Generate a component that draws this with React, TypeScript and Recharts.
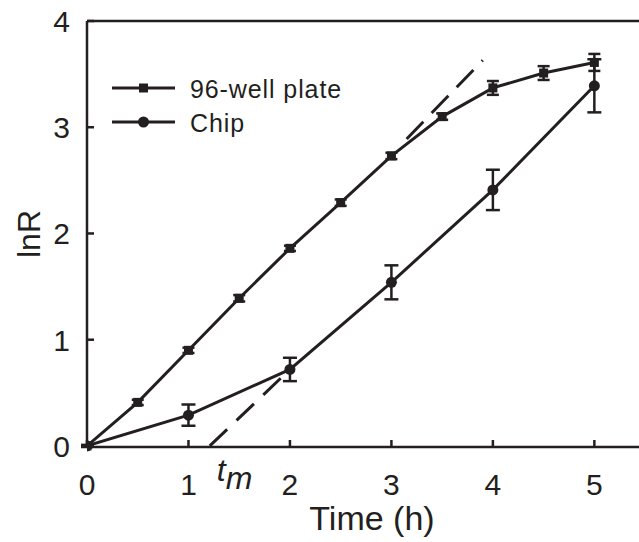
import React from 'react';
import { LineChart, Line, XAxis, YAxis, ErrorBar, ReferenceLine, ReferenceDot } from 'recharts';

// 96-well plate
const wellTime = [0, 0.5, 1, 1.5, 2, 2.5, 3, 3.5, 4, 4.5, 5];
const wellLnR = [0, 0.41, 0.9, 1.39, 1.86, 2.29, 2.73, 3.1, 3.37, 3.51, 3.61];
const wellErr = [0.01, 0.025, 0.025, 0.03, 0.025, 0.03, 0.03, 0.03, 0.065, 0.065, 0.08];

// chip
const chipTime = [0, 1, 2, 3, 4, 5];
const chipLnR = [0, 0.29, 0.72, 1.54, 2.41, 3.39];
const chipErr = [0, 0.1, 0.11, 0.16, 0.19, 0.25];

// dashed tangents
const tmTime = [1.21, 2.0];
const tmLnR = [0, 0.72];
const wellTanTime = [3.15, 3.9];
const wellTanLnR = [2.89, 3.63];

const xTicks = [0, 1, 2, 3, 4, 5];
const yTicks = [0, 1, 2, 3, 4];
const seriesNames = ['96-well plate', 'Chip'];

const INK = '#231f20';
const FONT = '"Liberation Sans", Arial, sans-serif';

const well = wellTime.map((t, i) => ({ t, lnR: wellLnR[i], err: wellErr[i] }));
const chip = chipTime.map((t, i) => ({ t, lnR: chipLnR[i], err: chipErr[i] }));
const tmLine = tmTime.map((t, i) => ({ t, lnR: tmLnR[i] }));
const wellTan = wellTanTime.map((t, i) => ({ t, lnR: wellTanLnR[i] }));

const SquareDot = (p: any) => (
  <rect key={p.key} x={p.cx - 4.5} y={p.cy - 4.5} width={9} height={9} fill={INK} />
);
const RoundDot = (p: any) => <circle key={p.key} cx={p.cx} cy={p.cy} r={5.5} fill={INK} />;

const XTick = (p: any) => (
  <g>
    <line x1={p.x} y1={p.y} x2={p.x} y2={p.y - 7} stroke={INK} strokeWidth={2.5} />
    <text x={p.x} y={p.y + 48} textAnchor="middle" fontSize={30} fontFamily={FONT} fill={INK}>
      {p.payload.value}
    </text>
  </g>
);

const YTick = (p: any) => (
  <g>
    <line x1={p.x} y1={p.y} x2={p.x + 7} y2={p.y} stroke={INK} strokeWidth={2.5} />
    <text x={p.x - 17} y={p.y + 11} textAnchor="end" fontSize={30} fontFamily={FONT} fill={INK}>
      {p.payload.value}
    </text>
  </g>
);

function LegendBox() {
  return (
    <svg width={260} height={70} style={{ position: 'absolute', left: 104, top: 68 }}>
      {seriesNames.map((name, i) => {
        const y = 20 + i * 34;
        return (
          <g key={name}>
            <line x1={8} y1={y} x2={71} y2={y} stroke={INK} strokeWidth={3} />
            {i === 0 ? (
              <rect x={35} y={y - 4.5} width={9} height={9} fill={INK} />
            ) : (
              <circle cx={39.5} cy={y} r={5.5} fill={INK} />
            )}
            <text x={86} y={y + 10} fontSize={25} fontFamily={FONT} fill={INK} letterSpacing={0.9}>
              {name}
            </text>
          </g>
        );
      })}
    </svg>
  );
}

export default function App() {
  return (
    <div style={{ position: 'absolute', left: 0, top: 0, width: 639, height: 542, background: '#fff' }}>
      <LineChart width={639} height={542} margin={{ top: 21, right: 0, bottom: 0, left: 0 }}>
        <XAxis
          type="number"
          dataKey="t"
          domain={[0, 5.44]}
          ticks={xTicks}
          allowDataOverflow
          height={95}
          tickSize={0}
          tickMargin={0}
          tickLine={false}
          axisLine={{ stroke: INK, strokeWidth: 2.5 }}
          tick={XTick}
          label={{
            content: ({ viewBox }: any) => (
              <text x={viewBox.x + 285} y={viewBox.y + 83} textAnchor="middle" fontSize={34} fontFamily={FONT} fill={INK}>
                Time (h)
              </text>
            ),
          }}
        />
        <YAxis
          type="number"
          dataKey="lnR"
          domain={[0, 4]}
          ticks={yTicks}
          width={87}
          tickSize={0}
          tickMargin={0}
          tickLine={false}
          axisLine={{ stroke: INK, strokeWidth: 2.5 }}
          tick={YTick}
          label={{
            content: ({ viewBox }: any) => {
              const cy = viewBox.y + viewBox.height / 2;
              return (
                <text x={40} y={cy} transform={`rotate(-90 40 ${cy})`} textAnchor="middle" fontSize={32} fontFamily={FONT} fill={INK}>
                  lnR
                </text>
              );
            },
          }}
        />
        <ReferenceLine y={4} stroke={INK} strokeWidth={2.5} />
        <Line
          data={tmLine}
          dataKey="lnR"
          stroke={INK}
          strokeWidth={3}
          strokeDasharray="24 13"
          dot={false}
          isAnimationActive={false}
        />
        <Line
          data={wellTan}
          dataKey="lnR"
          stroke={INK}
          strokeWidth={3}
          strokeDasharray="24 12"
          dot={false}
          isAnimationActive={false}
        />
        <Line
          data={chip}
          dataKey="lnR"
          name={seriesNames[1]}
          type="linear"
          stroke={INK}
          strokeWidth={3}
          dot={RoundDot}
          isAnimationActive={false}
        >
          <ErrorBar dataKey="err" direction="y" width={7} stroke={INK} strokeWidth={2.5} isAnimationActive={false} />
        </Line>
        <Line
          data={well}
          dataKey="lnR"
          name={seriesNames[0]}
          type="linear"
          stroke={INK}
          strokeWidth={3}
          dot={SquareDot}
          isAnimationActive={false}
        >
          <ErrorBar dataKey="err" direction="y" width={6} stroke={INK} strokeWidth={2.5} isAnimationActive={false} />
        </Line>
        <ReferenceDot
          x={tmTime[0]}
          y={0}
          shape={(p: any) => (
            <text x={p.cx + 7} y={p.cy + 35} fontSize={32} fontStyle="italic" fontFamily={FONT} fill={INK}>
              <tspan>t</tspan>
              <tspan dy={8}>m</tspan>
            </text>
          )}
        />
      </LineChart>
      <LegendBox />
    </div>
  );
}
